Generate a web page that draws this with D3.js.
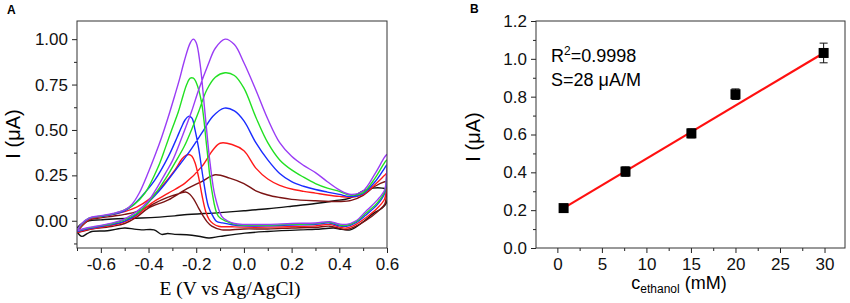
<!DOCTYPE html>
<html>
<head>
<meta charset="utf-8">
<script src="https://cdn.jsdelivr.net/npm/d3@7"></script>
<style>
  body { margin: 0; background: #fff; }
  svg { display: block; }
  text { font-family: Arial, "Liberation Sans", Helvetica, sans-serif; }
</style>
</head>
<body>
<div id="content"></div>
<script>
// ---------- Panel A: cyclic voltammograms, [E (V), I (uA)] ----------
const purpleFwd = [[-0.7,-0.055],[-0.66,-0.04],[-0.62,-0.03],[-0.55,-0.012],[-0.5,0.01],[-0.45,0.05],[-0.4,0.11],[-0.37,0.17],[-0.33,0.26],[-0.3,0.33],[-0.26,0.46],[-0.22,0.6],[-0.19,0.72],[-0.15,0.86],[-0.12,0.95],[-0.079,1.0],[-0.04,0.97],[0,0.87],[0.05,0.72],[0.1,0.56],[0.15,0.43],[0.2,0.355],[0.25,0.305],[0.3,0.265],[0.35,0.215],[0.4,0.17],[0.45,0.145],[0.5,0.165],[0.55,0.26],[0.59,0.35],[0.6,0.365]]
const purpleRev = [[0.598,0.25],[0.59,0.17],[0.56,0.115],[0.51,0.05],[0.47,0.0],[0.43,-0.02],[0.4,-0.018],[0.36,-0.005],[0.3,-0.012],[0.2,-0.015],[0.1,-0.02],[0.0,-0.02],[-0.04,-0.015],[-0.07,0.0],[-0.093,0.024],[-0.121,0.134],[-0.142,0.317],[-0.163,0.59],[-0.184,0.866],[-0.2,0.98],[-0.212,1.0],[-0.225,0.98],[-0.25,0.88],[-0.27,0.78],[-0.29,0.69],[-0.32,0.56],[-0.345,0.46],[-0.37,0.37],[-0.4,0.27],[-0.44,0.15],[-0.47,0.09],[-0.5,0.06],[-0.55,0.04],[-0.6,0.028],[-0.65,0.015],[-0.68,-0.015],[-0.7,-0.055]]

const greenFwd = [[-0.7,-0.055],[-0.66,-0.042],[-0.62,-0.032],[-0.55,-0.015],[-0.5,0.005],[-0.45,0.04],[-0.415,0.08],[-0.36,0.17],[-0.32,0.25],[-0.29,0.317],[-0.25,0.41],[-0.22,0.5],[-0.19,0.6],[-0.156,0.72],[-0.12,0.79],[-0.079,0.815],[-0.04,0.8],[0,0.73],[0.05,0.57],[0.1,0.43],[0.15,0.335],[0.2,0.28],[0.25,0.24],[0.3,0.205],[0.35,0.18],[0.4,0.162],[0.45,0.14],[0.5,0.155],[0.55,0.235],[0.59,0.32],[0.6,0.335]]
const greenRev = [[0.598,0.24],[0.59,0.16],[0.56,0.1],[0.51,0.04],[0.47,-0.005],[0.43,-0.025],[0.4,-0.023],[0.36,-0.008],[0.3,-0.016],[0.2,-0.02],[0.1,-0.024],[0,-0.024],[-0.037,-0.02],[-0.07,-0.005],[-0.107,0.024],[-0.135,0.17],[-0.156,0.408],[-0.177,0.647],[-0.198,0.755],[-0.212,0.785],[-0.225,0.785],[-0.24,0.75],[-0.255,0.69],[-0.275,0.6],[-0.303,0.5],[-0.33,0.4],[-0.359,0.298],[-0.415,0.152],[-0.46,0.09],[-0.5,0.06],[-0.55,0.038],[-0.6,0.026],[-0.65,0.014],[-0.68,-0.018],[-0.7,-0.055]]

const blueFwd = [[-0.7,-0.06],[-0.66,-0.046],[-0.62,-0.036],[-0.55,-0.02],[-0.5,-0.002],[-0.45,0.035],[-0.401,0.1],[-0.345,0.18],[-0.289,0.275],[-0.233,0.372],[-0.177,0.482],[-0.13,0.575],[-0.082,0.62],[-0.04,0.605],[0,0.55],[0.05,0.43],[0.1,0.335],[0.15,0.26],[0.2,0.215],[0.25,0.19],[0.3,0.172],[0.35,0.158],[0.4,0.145],[0.45,0.133],[0.5,0.15],[0.55,0.215],[0.59,0.29],[0.6,0.308]]
const blueRev = [[0.598,0.22],[0.59,0.15],[0.56,0.09],[0.51,0.03],[0.47,-0.01],[0.43,-0.03],[0.4,-0.028],[0.36,-0.012],[0.3,-0.02],[0.2,-0.024],[0.1,-0.028],[0,-0.028],[-0.05,-0.022],[-0.09,-0.012],[-0.114,-0.004],[-0.13,0.025],[-0.149,0.079],[-0.17,0.225],[-0.19,0.4],[-0.205,0.5],[-0.218,0.565],[-0.232,0.575],[-0.247,0.555],[-0.262,0.515],[-0.28,0.46],[-0.317,0.353],[-0.373,0.225],[-0.429,0.134],[-0.47,0.08],[-0.5,0.055],[-0.55,0.035],[-0.6,0.024],[-0.65,0.012],[-0.68,-0.02],[-0.7,-0.06]]

const redFwd = [[-0.7,-0.065],[-0.66,-0.05],[-0.62,-0.04],[-0.55,-0.024],[-0.5,-0.006],[-0.45,0.03],[-0.387,0.097],[-0.317,0.152],[-0.247,0.207],[-0.177,0.298],[-0.13,0.39],[-0.1,0.427],[-0.05,0.42],[0,0.385],[0.05,0.29],[0.1,0.23],[0.15,0.195],[0.2,0.175],[0.25,0.162],[0.3,0.152],[0.35,0.142],[0.4,0.134],[0.45,0.13],[0.5,0.145],[0.55,0.2],[0.59,0.25],[0.6,0.262]]
const redRev = [[0.598,0.18],[0.59,0.12],[0.56,0.07],[0.51,0.015],[0.47,-0.02],[0.43,-0.04],[0.4,-0.035],[0.36,-0.02],[0.3,-0.028],[0.2,-0.032],[0.1,-0.035],[0,-0.035],[-0.05,-0.033],[-0.107,-0.03],[-0.13,-0.015],[-0.145,0.005],[-0.16,0.05],[-0.175,0.135],[-0.19,0.24],[-0.205,0.32],[-0.218,0.355],[-0.23,0.365],[-0.243,0.36],[-0.26,0.34],[-0.289,0.28],[-0.345,0.188],[-0.401,0.115],[-0.45,0.075],[-0.5,0.05],[-0.55,0.034],[-0.6,0.022],[-0.65,0.008],[-0.68,-0.025],[-0.7,-0.065]]

const brownFwd = [[-0.7,-0.065],[-0.66,-0.052],[-0.62,-0.042],[-0.55,-0.03],[-0.5,-0.015],[-0.45,0.02],[-0.401,0.07],[-0.317,0.115],[-0.247,0.17],[-0.177,0.216],[-0.121,0.253],[-0.06,0.235],[0,0.205],[0.05,0.165],[0.1,0.142],[0.15,0.128],[0.2,0.118],[0.3,0.11],[0.4,0.106],[0.45,0.112],[0.5,0.14],[0.55,0.19],[0.59,0.215],[0.6,0.216]]
const brownRev = [[0.598,0.15],[0.59,0.09],[0.56,0.05],[0.51,0.0],[0.47,-0.03],[0.43,-0.048],[0.4,-0.042],[0.36,-0.03],[0.3,-0.036],[0.2,-0.04],[0.1,-0.045],[0,-0.045],[-0.093,-0.05],[-0.135,-0.03],[-0.155,-0.005],[-0.17,0.024],[-0.19,0.07],[-0.21,0.118],[-0.227,0.146],[-0.245,0.158],[-0.265,0.152],[-0.3,0.138],[-0.345,0.115],[-0.387,0.088],[-0.45,0.05],[-0.5,0.035],[-0.55,0.025],[-0.6,0.016],[-0.65,0.004],[-0.68,-0.03],[-0.7,-0.065]]

const blackFwd = [[-0.7,-0.04],[-0.68,-0.015],[-0.65,0.0],[-0.6,0.005],[-0.55,0.01],[-0.43,0.015],[-0.29,0.027],[-0.25,0.033],[-0.1,0.045],[0,0.055],[0.1,0.066],[0.2,0.08],[0.3,0.095],[0.38,0.11],[0.445,0.125],[0.5,0.165],[0.54,0.18],[0.58,0.18],[0.6,0.17]]
const blackRev = [[0.598,0.1],[0.58,0.07],[0.544,0.042],[0.502,-0.004],[0.446,-0.05],[0.4,-0.045],[0.377,-0.04],[0.3,-0.047],[0.237,-0.05],[0.098,-0.059],[0.004,-0.068],[-0.1,-0.086],[-0.147,-0.095],[-0.19,-0.085],[-0.24,-0.077],[-0.29,-0.075],[-0.32,-0.07],[-0.345,-0.075],[-0.377,-0.05],[-0.429,-0.05],[-0.46,-0.046],[-0.5,-0.04],[-0.572,-0.055],[-0.638,-0.059],[-0.656,-0.07],[-0.68,-0.086],[-0.7,-0.06]]

const cvSeries = [
    { name: 'black', color: '#111111', fwd: blackFwd, rev: blackRev },
    { name: 'brown', color: '#7b1414', fwd: brownFwd, rev: brownRev },
    { name: 'red', color: '#ff1a1a', fwd: redFwd, rev: redRev },
    { name: 'blue', color: '#1a2cff', fwd: blueFwd, rev: blueRev },
    { name: 'green', color: '#22e022', fwd: greenFwd, rev: greenRev },
    { name: 'purple', color: '#9a3cf5', fwd: purpleFwd, rev: purpleRev }
]

const cvXTicks = [-0.6, -0.4, -0.2, 0.0, 0.2, 0.4, 0.6]
const cvXMinor = [-0.7, -0.5, -0.3, -0.1, 0.1, 0.3, 0.5]
const cvYTicks = [0.0, 0.25, 0.5, 0.75, 1.0]
const cvYMinor = [-0.125, 0.125, 0.375, 0.625, 0.875]

// ---------- Panel B: calibration ----------
const concentrations = [0.7, 7.65, 15.05, 20, 29.9]
const currents = [0.211, 0.404, 0.606, 0.813, 1.031]
const errors = [0.013, 0.025, 0.024, 0.028, 0.052]
const fitSlope = 0.0281
const fitIntercept = 0.191
const calXTicks = [0, 5, 10, 15, 20, 25, 30]
const calXMinor = [2.5, 7.5, 12.5, 17.5, 22.5, 27.5, 32.5]
const calYTicks = [0.0, 0.2, 0.4, 0.6, 0.8, 1.0, 1.2]
const calYMinor = [0.1, 0.3, 0.5, 0.7, 0.9, 1.1]

const W = 850
const H = 303

const svg = d3.select('#content')
    .append('svg')
    .attr('width', W)
    .attr('height', H)

// draws a framed plot with outward ticks
const drawFrame = (g, x, y, xt, xm, yt, ym, xfmt, yfmt) => {
    const [x0, x1] = x.range()
    const [y0, y1] = y.range()

    const xMajor = g.append('g')
        .attr('transform', `translate(0, ${y0})`)
        .call(d3.axisBottom(x).tickValues(xt).tickSize(5).tickSizeOuter(0).tickPadding(5).tickFormat(xfmt))
    const xMin = g.append('g')
        .attr('transform', `translate(0, ${y0})`)
        .call(d3.axisBottom(x).tickValues(xm.filter(v => x(v) >= x0 - 0.5 && x(v) <= x1 + 0.5)).tickSize(3).tickFormat(''))
    const yMajor = g.append('g')
        .attr('transform', `translate(${x0}, 0)`)
        .call(d3.axisLeft(y).tickValues(yt).tickSize(5).tickSizeOuter(0).tickPadding(4).tickFormat(yfmt))
    const yMin = g.append('g')
        .attr('transform', `translate(${x0}, 0)`)
        .call(d3.axisLeft(y).tickValues(ym).tickSize(3).tickFormat(''))

    ;[xMajor, xMin, yMajor, yMin].forEach(a => {
        a.select('.domain').remove()
        a.selectAll('line').attr('stroke', '#222')
        a.selectAll('text')
            .attr('font-size', 17)
            .attr('fill', '#111')
            .attr('font-family', 'Arial, "Liberation Sans", sans-serif')
    })

    g.append('rect')
        .attr('x', x0)
        .attr('y', y1)
        .attr('width', x1 - x0)
        .attr('height', y0 - y1)
        .attr('fill', 'none')
        .attr('stroke', '#333')
        .attr('stroke-width', 1)
}

// ---------- Panel A ----------
const xA = d3.scaleLinear().domain([-0.7, 0.6]).range([77, 387])
const yA = d3.scaleLinear().domain([-0.15, 1.1]).range([248, 21])

const panelA = svg.append('g')

svg.append('clipPath')
    .attr('id', 'clipA')
    .append('rect')
    .attr('x', 77)
    .attr('y', 21)
    .attr('width', 310)
    .attr('height', 227)

const cvLine = d3.line()
    .x(d => xA(d[0]))
    .y(d => yA(d[1]))
    .curve(d3.curveCatmullRom.alpha(0.5))

panelA.append('g')
    .attr('clip-path', 'url(#clipA)')
    .selectAll('path')
    .data(cvSeries)
    .join('path')
    .attr('d', d => cvLine(d.fwd.concat(d.rev)))
    .attr('fill', 'none')
    .attr('stroke', d => d.color)
    .attr('stroke-width', 1.4)
    .attr('stroke-linejoin', 'round')

drawFrame(panelA, xA, yA, cvXTicks, cvXMinor, cvYTicks, cvYMinor,
    d => d.toFixed(1), d => d.toFixed(2))

panelA.append('text')
    .text('A')
    .attr('x', 7)
    .attr('y', 14)
    .attr('font-size', 12)
    .attr('font-weight', 'bold')

panelA.append('text')
    .text('I (μA)')
    .attr('transform', 'translate(20, 134) rotate(-90)')
    .attr('text-anchor', 'middle')
    .attr('font-size', 20)

panelA.append('text')
    .text('E (V vs Ag/AgCl)')
    .attr('x', 230)
    .attr('y', 295)
    .attr('text-anchor', 'middle')
    .attr('font-size', 19.5)
    .style('font-family', '"Liberation Serif", "Times New Roman", serif')

// ---------- Panel B ----------
const xB = d3.scaleLinear().domain([-2.4, 32.3]).range([536, 845])
const yB = d3.scaleLinear().domain([0, 1.2]).range([248, 21])

const panelB = svg.append('g')

drawFrame(panelB, xB, yB, calXTicks, calXMinor, calYTicks, calYMinor,
    d => d3.format('d')(d), d => d.toFixed(1))

const calPoints = concentrations.map((c, i) => ({ c: c, v: currents[i], e: errors[i] }))

// fitted line
const fitX = d3.extent(concentrations)
panelB.append('line')
    .attr('x1', xB(fitX[0]))
    .attr('x2', xB(fitX[1]))
    .attr('y1', yB(fitIntercept + fitSlope * fitX[0]))
    .attr('y2', yB(fitIntercept + fitSlope * fitX[1]))
    .attr('stroke', '#ff1010')
    .attr('stroke-width', 2.2)

// error bars
const bars = panelB.append('g')
    .selectAll('g')
    .data(calPoints)
    .join('g')
    .attr('stroke', '#111')
    .attr('stroke-width', 1)

bars.append('line')
    .attr('x1', d => xB(d.c))
    .attr('x2', d => xB(d.c))
    .attr('y1', d => yB(d.v - d.e))
    .attr('y2', d => yB(d.v + d.e))

bars.append('line')
    .attr('x1', d => xB(d.c) - 4)
    .attr('x2', d => xB(d.c) + 4)
    .attr('y1', d => yB(d.v + d.e))
    .attr('y2', d => yB(d.v + d.e))

bars.append('line')
    .attr('x1', d => xB(d.c) - 4)
    .attr('x2', d => xB(d.c) + 4)
    .attr('y1', d => yB(d.v - d.e))
    .attr('y2', d => yB(d.v - d.e))

panelB.append('g')
    .selectAll('rect')
    .data(calPoints)
    .join('rect')
    .attr('x', d => xB(d.c) - 5)
    .attr('y', d => yB(d.v) - 5)
    .attr('width', 10)
    .attr('height', 10)
    .attr('fill', '#000')

panelB.append('text')
    .text('B')
    .attr('x', 470)
    .attr('y', 13)
    .attr('font-size', 12)
    .attr('font-weight', 'bold')

panelB.append('text')
    .text('I (μA)')
    .attr('transform', 'translate(480, 137) rotate(-90)')
    .attr('text-anchor', 'middle')
    .attr('font-size', 20)

const r2 = panelB.append('text')
    .attr('x', 551)
    .attr('y', 62)
    .attr('font-size', 18)
r2.append('tspan').text('R')
r2.append('tspan').text('2').attr('font-size', 12).attr('dy', -7)
r2.append('tspan').text('=0.9998').attr('dy', 7)

panelB.append('text')
    .text('S=28 μA/M')
    .attr('x', 551)
    .attr('y', 86)
    .attr('font-size', 18)

const xl = panelB.append('text')
    .attr('x', 679)
    .attr('y', 289)
    .attr('text-anchor', 'middle')
    .attr('font-size', 18)
xl.append('tspan').text('c')
xl.append('tspan').text('ethanol').attr('font-size', 12).attr('dy', 4)
xl.append('tspan').text(' (mM)').attr('dy', -4)
</script>
</body>
</html>
